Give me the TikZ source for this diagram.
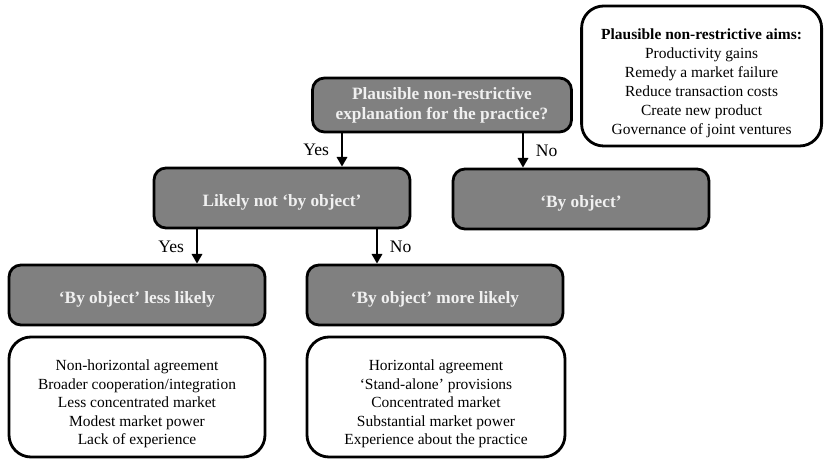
\documentclass[tikz,border=0pt]{standalone}
\usepackage{fontspec}
\setmainfont{Liberation Serif}
\usepackage{tikz}
\usetikzlibrary{arrows.meta,positioning,calc}
\definecolor{boxgray}{RGB}{128,128,128}
\newcommand{\lnstrut}[1]{\rule{0pt}{#1}}
\tikzset{
  qbox/.style={draw, line width=2pt, rounded corners=0.3cm, fill=boxgray, text=white!94!black, align=center, font=\fontsize{12.3}{14}\selectfont\bfseries, minimum width=6.4cm, minimum height=1.5cm},
  listbox/.style={draw, line width=2pt, rounded corners=0.55cm, fill=white, align=center, font=\fontsize{11}{13.2}\selectfont, minimum width=6.4cm, minimum height=3.0cm},
  arrow/.style={-{Triangle[length=2.4mm,width=2.6mm]}, line width=1.4pt},
  lbl/.style={font=\fontsize{12.5}{14}\selectfont, inner xsep=8.5pt}
}
\begin{document}
\begin{tikzpicture}[x=1cm,y=1cm]
  \useasboundingbox (0,0) rectangle (20.75,-11.5);
  \node[qbox,minimum width=6.475cm,minimum height=1.35cm] (plaus) at (11.05,-2.625) {\lnstrut{9.5pt}Plausible non-restrictive\\explanation for the practice?};
  \node[qbox] (notobj) at (7.05,-4.95) {\lnstrut{15pt}Likely not `by object'};
  \node[qbox] (byobj) at (14.525,-4.975) {\lnstrut{15pt}`By object'};
  \node[qbox] (less) at (3.425,-7.375) {\lnstrut{15pt}`By object' less likely};
  \node[qbox] (more) at (10.875,-7.375) {\lnstrut{15pt}`By object' more likely};
  \node[listbox] (lesslist) at (3.425,-9.925) {\lnstrut{17.5pt}Non-horizontal agreement\\Broader cooperation/integration\\Less concentrated market\\Modest market power\\Lack of experience};
  \node[listbox,minimum width=6.45cm] (morelist) at (10.9,-9.925) {\lnstrut{17.5pt}Horizontal agreement\\`Stand-alone' provisions\\Concentrated market\\Substantial market power\\Experience about the practice};
  \node[listbox,minimum width=6.0cm,minimum height=3.5cm,font=\fontsize{11}{13.5}\selectfont] (aims) at (17.54,-1.9) {\lnstrut{17.5pt}\textbf{Plausible non-restrictive aims:}\\Productivity gains\\Remedy a market failure\\Reduce transaction costs\\Create new product\\Governance of joint ventures};
  % arrow start points
  \coordinate (yes1) at ([xshift=-2.5cm]plaus.south);
  \coordinate (no1) at ([xshift=2.025cm]plaus.south);
  \coordinate (yes2) at ([xshift=-2.125cm]notobj.south);
  \coordinate (no2) at ([xshift=2.375cm]notobj.south);
  \draw[arrow] (yes1) -- node[left,lbl]{Yes} (yes1 |- notobj.north);
  \draw[arrow] (no1) -- node[right,lbl]{No} (no1 |- byobj.north);
  \draw[arrow] (yes2) -- node[left,lbl]{Yes} (yes2 |- less.north);
  \draw[arrow] (no2) -- node[right,lbl]{No} (no2 |- more.north);
\end{tikzpicture}
\end{document}
